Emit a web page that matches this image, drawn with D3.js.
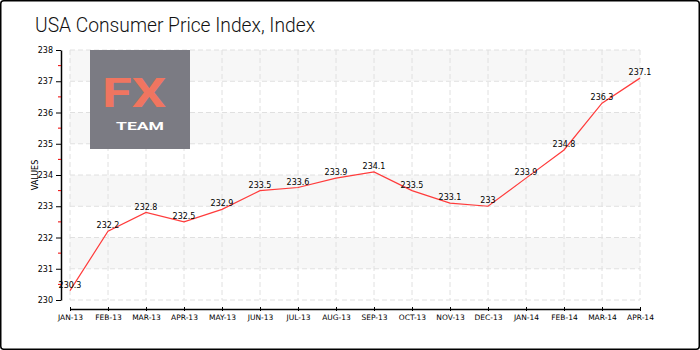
<!DOCTYPE html>
<html><head><meta charset="utf-8">
<script src="https://cdn.jsdelivr.net/npm/d3@7"></script>
<style>body{margin:0;background:#fff}svg{display:block}</style>
</head><body><svg id="c" width="700" height="350"></svg>
<script>
const months = ["JAN-13","FEB-13","MAR-13","APR-13","MAY-13","JUN-13","JUL-13","AUG-13","SEP-13","OCT-13","NOV-13","DEC-13","JAN-14","FEB-14","MAR-14","APR-14"];
const values = [230.3,232.2,232.8,232.5,232.9,233.5,233.6,233.9,234.1,233.5,233.1,233.0,233.9,234.8,236.3,237.1];
const yTicks = [230,231,232,233,234,235,236,237,238];
const title = "USA Consumer Price Index, Index";

const svg = d3.select("#c");
const W=700,H=350;
svg.append("rect").attr("x",0.75).attr("y",0.75).attr("width",W-1.5).attr("height",H-1.5)
  .attr("rx",3).attr("fill","#fff").attr("stroke","#000").attr("stroke-width",1.5);

svg.append("text").attr("x",35).attr("y",32).text(title)
  .attr("font-family","Roboto").attr("font-weight",300).attr("font-size",21).attr("fill","#111")
  .attr("textLength",280).attr("lengthAdjust","spacingAndGlyphs");

const x0=70,x1=640,yTop=50,yBot=300;
const x = d3.scalePoint().domain(months).range([x0,x1]);
const y = d3.scaleLinear().domain([230,238]).range([yBot,yTop]);

// bands
const g = svg.append("g");
for(let v=231; v<238; v+=2){
  g.append("rect").attr("x",x0).attr("width",x1-x0).attr("y",y(v+1)).attr("height",y(v)-y(v+1)).attr("fill","#f7f7f7");
}
// grid
g.selectAll(".hg").data(yTicks).join("line").attr("x1",x0).attr("x2",x1)
  .attr("y1",d=>y(d)).attr("y2",d=>y(d)).attr("stroke","#e0e0e0").attr("stroke-dasharray","5,3");
g.selectAll(".vg").data(months).join("line").attr("x1",d=>x(d)).attr("x2",d=>x(d))
  .attr("y1",yTop).attr("y2",yBot).attr("stroke","#e0e0e0").attr("stroke-dasharray","5,3");

// logo
const lg = svg.append("g");
lg.append("rect").attr("x",90).attr("y",50).attr("width",100).attr("height",99).attr("fill","#7b7b83");
lg.append("text").attr("x",134).attr("y",107).attr("text-anchor","middle").text("FX")
  .attr("font-family","Roboto").attr("font-weight",700).attr("font-size",40).attr("fill","#f07560")
  .attr("textLength",64).attr("lengthAdjust","spacingAndGlyphs");
lg.append("text").attr("x",140).attr("y",130).attr("text-anchor","middle").text("TEAM")
  .attr("font-family","Roboto").attr("font-weight",700).attr("font-size",11.5).attr("fill","#fff")
  .attr("textLength",48).attr("lengthAdjust","spacingAndGlyphs");

// y axis
const ya = svg.append("g").attr("transform","translate(61,0)");
ya.call(d3.axisLeft(y).tickValues(yTicks).tickSize(5).tickSizeOuter(0).tickFormat(d3.format("d")));
ya.select(".domain").attr("stroke","#000").attr("stroke-width",1.5);
ya.selectAll("text").attr("font-family","DejaVu Sans").attr("font-size",8).attr("fill","#000");
ya.selectAll(".minor").data(d3.range(230.5,238,1)).join("line").attr("x1",-3).attr("x2",0)
  .attr("y1",d=>y(d)).attr("y2",d=>y(d)).attr("stroke","#e00").attr("stroke-width",1);
svg.append("text").attr("transform","translate(38,175) rotate(-90)").attr("text-anchor","middle")
  .text("VALUES").attr("font-family","DejaVu Sans").attr("font-size",8).attr("fill","#000");

// x axis
const xa = svg.append("g").attr("transform","translate(0,309)");
xa.call(d3.axisBottom(x).tickSize(2).tickSizeOuter(0));
xa.select(".domain").attr("stroke","#000").attr("stroke-width",1.5);
xa.selectAll(".tick line").attr("y1",-2).attr("y2",2).attr("stroke","#000");
xa.selectAll("text").attr("y",6).attr("font-family","DejaVu Sans").attr("font-size",7.5).attr("fill","#000");

// line
const data = months.map((m,i)=>({m,v:values[i]}));
svg.append("path").datum(data).attr("fill","none").attr("stroke","#ff3b3b").attr("stroke-width",1.2)
  .attr("d",d3.line().x(d=>x(d.m)).y(d=>y(d.v)));
svg.selectAll(".lbl").data(data).join("text").attr("x",d=>x(d.m)).attr("y",d=>y(d.v)-3)
  .attr("text-anchor","middle").text(d=>d3.format("")(d.v))
  .attr("font-family","DejaVu Sans").attr("font-size",8).attr("fill","#000");
</script></body></html>
